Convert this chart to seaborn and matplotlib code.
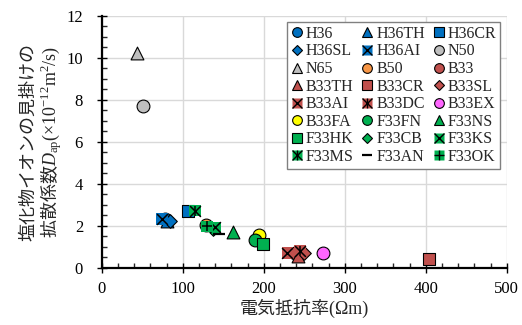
import matplotlib
matplotlib.use('Agg')
import matplotlib.pyplot as plt
import seaborn as sns
from matplotlib.lines import Line2D
from matplotlib.legend_handler import HandlerTuple
from matplotlib.ticker import MultipleLocator

# data
series = ['H36', 'H36TH', 'H36CR', 'H36SL', 'H36AI', 'N50',
          'N65', 'B50', 'B33', 'B33TH', 'B33CR', 'B33SL',
          'B33AI', 'B33DC', 'B33EX', 'B33FA', 'F33FN', 'F33NS',
          'F33HK', 'F33CB', 'F33KS', 'F33MS', 'F33AN', 'F33OK']
resistivity = [78, 80, 106, 84, 74, 51,
               44, 129, 238, 242, 404, 250,
               229, 245, 273, 194, 189, 162,
               199, 137, 140, 115, 145, 130]
diffusion = [2.3, 2.25, 2.72, 2.25, 2.33, 7.7,
             10.2, 2.05, 0.7, 0.55, 0.42, 0.72,
             0.7, 0.82, 0.7, 1.55, 1.33, 1.7,
             1.13, 1.85, 1.92, 2.72, 1.6, 1.97]

sns.set_style('white')
plt.rcParams['font.family'] = ['Liberation Serif', 'Noto Sans CJK JP']
plt.rcParams['mathtext.fontset'] = 'custom'
plt.rcParams['mathtext.rm'] = 'Liberation Serif'
plt.rcParams['mathtext.it'] = 'Liberation Serif:italic'
plt.rcParams['mathtext.sf'] = 'Liberation Serif'

blue = '#0070C0'
gray = '#BFBFBF'
orange = '#F79646'
red = '#C0504D'
pink = '#FF66FF'
yellow = '#FFFF00'
green = '#00B050'

# base marker, fill colour, overlay markers
styles = {
    'H36': ('o', blue, []), 'H36TH': ('^', blue, []), 'H36CR': ('s', blue, []),
    'H36SL': ('D', blue, []), 'H36AI': ('s', blue, ['x']), 'N50': ('o', gray, []),
    'N65': ('^', gray, []), 'B50': ('o', orange, []), 'B33': ('o', red, []),
    'B33TH': ('^', red, []), 'B33CR': ('s', red, []), 'B33SL': ('D', red, []),
    'B33AI': ('s', red, ['x']), 'B33DC': ('s', red, ['x', '|']), 'B33EX': ('o', pink, []),
    'B33FA': ('o', yellow, []), 'F33FN': ('o', green, []), 'F33NS': ('^', green, []),
    'F33HK': ('s', green, []), 'F33CB': ('D', green, []), 'F33KS': ('s', green, ['x']),
    'F33MS': ('s', green, ['x', '|']), 'F33AN': (None, None, ['_']), 'F33OK': ('s', green, ['+']),
}
sizes = {'o': 85, '^': 85, 's': 70, 'D': 48}

fig, ax = plt.subplots(figsize=(5.22, 3.25), dpi=100)
fig.subplots_adjust(left=0.195, right=0.971, top=0.952, bottom=0.176)

handles = []
for i, name in enumerate(series):
    base, col, over = styles[name]
    x = [resistivity[i]]
    y = [diffusion[i]]
    parts = []
    if base is not None:
        edge = 'none' if over else 'black'
        sns.scatterplot(x=x, y=y, marker=base, color=col, s=sizes[base],
                        edgecolor=edge, linewidth=0.8, ax=ax, legend=False, zorder=3 + i * 0.01)
        parts.append(Line2D([], [], ls='', marker=base, markerfacecolor=col,
                            markeredgecolor=edge, markeredgewidth=0.8,
                            markersize=7 if base != 'D' else 5.5))
    for m in over:
        ms = 60 if m != '_' else 70
        sns.scatterplot(x=x, y=y, marker=m, color='black', s=ms,
                        linewidth=1.6 if m == '_' else 1.1, ax=ax, legend=False, zorder=3 + i * 0.01 + 0.005)
        parts.append(Line2D([], [], ls='', marker=m, color='black',
                            markersize=6.5, markeredgewidth=1.6 if m == '_' else 1.0))
    handles.append(tuple(parts))

ax.set_xlim(0, 500)
ax.set_ylim(0, 12)
ax.xaxis.set_major_locator(MultipleLocator(100))
ax.xaxis.set_minor_locator(MultipleLocator(20))
ax.yaxis.set_major_locator(MultipleLocator(2))
ax.yaxis.set_minor_locator(MultipleLocator(0.5))
ax.grid(True, which='major', color='#d9d9d9', linewidth=1.0)
ax.set_axisbelow(True)
sns.despine(ax=ax)
for side in ['left', 'bottom']:
    ax.spines[side].set_linewidth(1.6)
    ax.spines[side].set_color('black')
ax.tick_params(which='major', direction='inout', length=7, width=1.0,
               labelsize=12, pad=6, colors='black', left=True, bottom=True)
ax.tick_params(axis='y', which='major', pad=10)
ax.tick_params(which='minor', direction='in', length=3.5, width=1.0,
               left=True, bottom=True)

ax.set_xlabel('電気抵抗率(Ωm)', fontsize=13, labelpad=1)
# the CJK font has to come first here: mathtext uses only the first family for plain parts
ax.set_ylabel('塩化物イオンの見掛けの\n拡散係数$D_\\mathsf{ap}\\mathsf{(\\times10^{-12}m^2/s)}$',
              fontsize=13, labelpad=2, linespacing=1.05,
              family=['Noto Sans CJK JP', 'Liberation Serif'])

# legend reads row by row in the reference
ncol = 3
nrow = len(series) // ncol
order = [r * ncol + c for c in range(ncol) for r in range(nrow)]
leg = ax.legend([handles[k] for k in order], [series[k] for k in order],
                ncol=ncol, loc='upper right', bbox_to_anchor=(0.983, 0.975),
                borderaxespad=0,
                handler_map={tuple: HandlerTuple(ndivide=1)}, fontsize=11.5,
                frameon=True, fancybox=False, edgecolor='#808080', framealpha=1,
                handlelength=0.8, handletextpad=0.15, columnspacing=0.45,
                labelspacing=0.1, borderpad=0.25)
leg.get_frame().set_linewidth(1.0)

fig.savefig('out.png', dpi=100)
